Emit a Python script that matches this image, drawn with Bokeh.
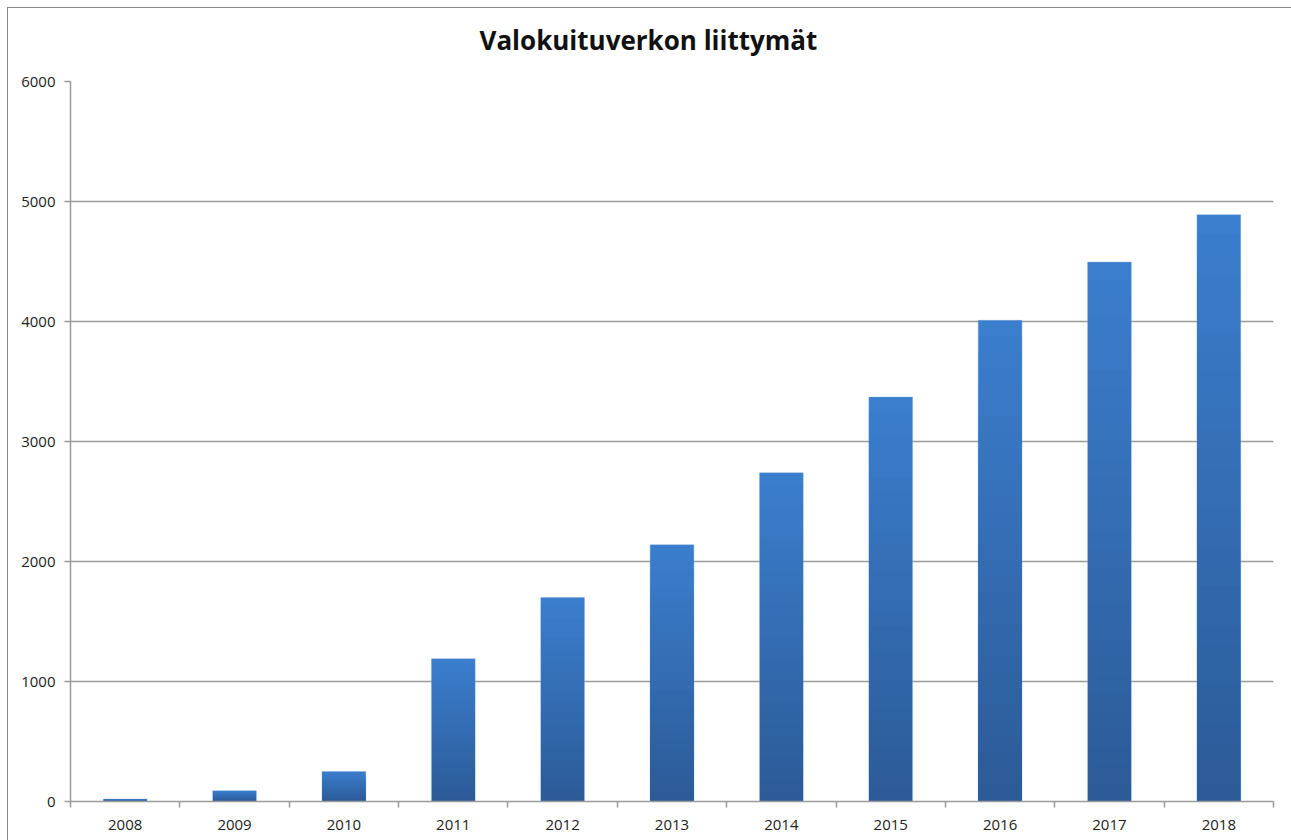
from bokeh.plotting import figure
from bokeh.models import FixedTicker, Range1d
from bokeh.embed import file_html
from bokeh.resources import INLINE

years = ["2008", "2009", "2010", "2011", "2012", "2013", "2014", "2015", "2016", "2017", "2018"]
values = [20, 90, 250, 1190, 1700, 2140, 2740, 3370, 4010, 4495, 4890]
y_ticks = [0, 1000, 2000, 3000, 4000, 5000, 6000]
title_text = "Valokuituverkon liittymät"

top_rgb = (59, 126, 206)
bot_rgb = (44, 90, 150)

p = figure(width=1283, height=832, output_backend="svg", toolbar_location=None,
           x_range=Range1d(-0.5, len(years) - 0.5), y_range=Range1d(0, 6000),
           min_border_left=62, min_border_right=18, min_border_top=73, min_border_bottom=39,
           title=title_text)
p.styles = {"margin-left": "8px", "margin-top": "8px", "outline": "1.5px solid #8a8a8a"}
p.title.align = "left"
p.title.offset = 409
p.title.vertical_align = "top"
p.title.text_font = "Open Sans"
p.title.text_font_style = "bold"
p.title.text_font_size = "26px"
p.title.text_color = "#111111"
p.title.standoff = 26
p.title.padding = dict(left=0, right=0, top=0, bottom=9)
p.outline_line_color = None
p.background_fill_color = "white"
p.border_fill_color = "white"

# base bars in the top colour with a light rim
p.vbar(x=list(range(len(years))), bottom=0, top=values, width=0.4,
       fill_color="#%02x%02x%02x" % top_rgb, line_color="#7fa6d8", line_width=0.6, line_alpha=0.6)

# gradient: nested, slightly narrower bars from the base, each shorter one darker
N = 30
xs, tops, cols = [], [], []
for k in range(1, N):
    f = (N - k) / N
    r = int(bot_rgb[0] + (top_rgb[0] - bot_rgb[0]) * f)
    g = int(bot_rgb[1] + (top_rgb[1] - bot_rgb[1]) * f)
    b = int(bot_rgb[2] + (top_rgb[2] - bot_rgb[2]) * f)
    c = "#%02x%02x%02x" % (r, g, b)
    for i, v in enumerate(values):
        xs.append(i)
        tops.append(v * f)
        cols.append(c)
p.vbar(x=xs, bottom=0, top=tops, width=0.388, fill_color=cols, line_color=None)

grid_col = "#9a9a9a"
p.xgrid.grid_line_color = None
p.ygrid.grid_line_color = grid_col
p.ygrid.grid_line_width = 1.5
p.ygrid.ticker = FixedTicker(ticks=y_ticks)

p.yaxis.ticker = FixedTicker(ticks=y_ticks)
p.yaxis.axis_line_color = grid_col
p.yaxis.axis_line_width = 1.5
p.yaxis.major_tick_line_color = grid_col
p.yaxis.major_tick_line_width = 1.5
p.yaxis.major_tick_out = 6
p.yaxis.major_tick_in = 0
p.yaxis.minor_tick_line_color = None
p.yaxis.major_label_standoff = 9
p.yaxis.major_label_text_font = "Open Sans"
p.yaxis.major_label_text_font_size = "15px"
p.yaxis.major_label_text_color = "#222222"

centers = list(range(len(years)))
bounds = [i - 0.5 for i in range(len(years) + 1)]
p.xaxis.ticker = FixedTicker(ticks=centers, minor_ticks=bounds)
p.xaxis.major_label_overrides = {i: y for i, y in enumerate(years)}
p.xaxis.axis_line_color = grid_col
p.xaxis.axis_line_width = 1.5
p.xaxis.major_tick_line_color = None
p.xaxis.minor_tick_line_color = grid_col
p.xaxis.minor_tick_line_width = 1.5
p.xaxis.minor_tick_out = 6
p.xaxis.minor_tick_in = 0
p.xaxis.major_label_standoff = 12
p.xaxis.major_label_text_font = "Open Sans"
p.xaxis.major_label_text_font_size = "15px"
p.xaxis.major_label_text_color = "#222222"

open("out.html", "w").write(file_html(p, INLINE))
